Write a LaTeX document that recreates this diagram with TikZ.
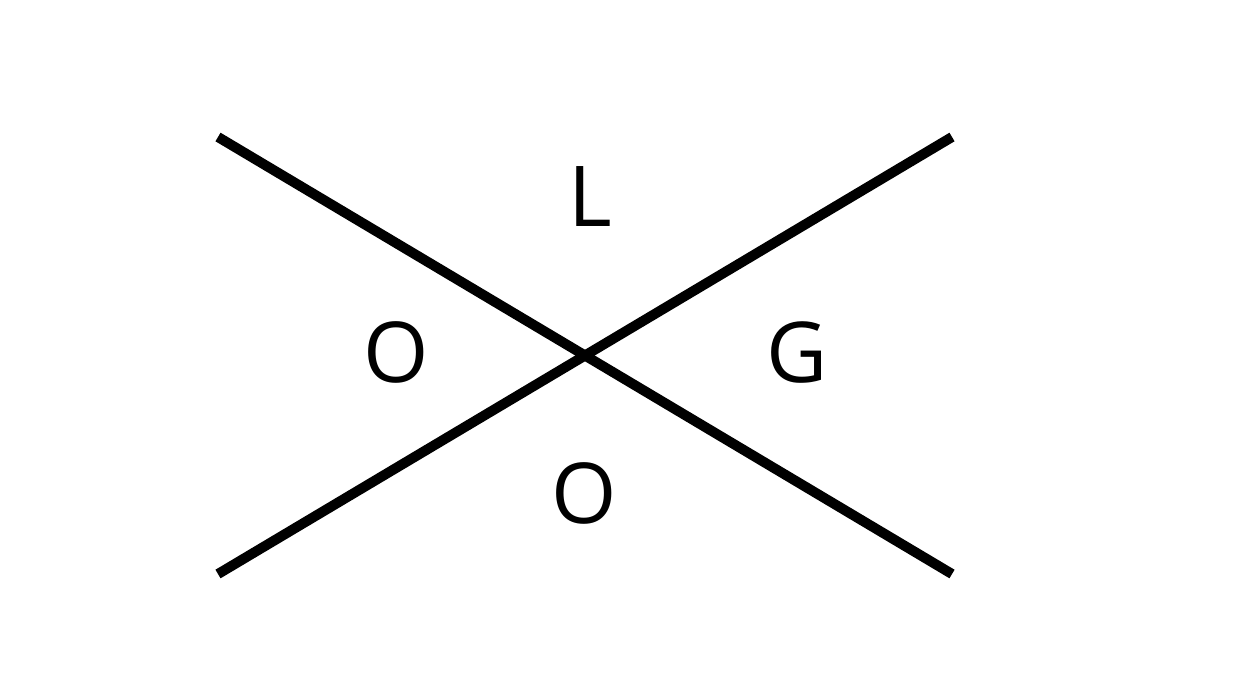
\documentclass[tikz,border=0pt]{standalone}
\usepackage{fontspec}
\setmainfont{Open Sans}
\begin{document}
\begin{tikzpicture}[x=1pt,y=-1pt,
  bar/.style={line width=10pt,black},
  letter/.style={font=\fontsize{84}{84}\selectfont,inner sep=0pt,anchor=base}]
\useasboundingbox (0,0) rectangle (1253,673);
\coordinate (tl) at (218,137);
\coordinate (br) at (952,574);
\coordinate (bl) at (218,574);
\coordinate (tr) at (952,137);
\draw[bar] (tl) -- (br);
\draw[bar] (bl) -- (tr);
\node[letter] (l) at (590,226) {L};
\node[letter] (o1) at (396,382) {O};
\node[letter] (g) at (797,382) {G};
\node[letter] (o2) at (584,523) {O};
\end{tikzpicture}
\end{document}
